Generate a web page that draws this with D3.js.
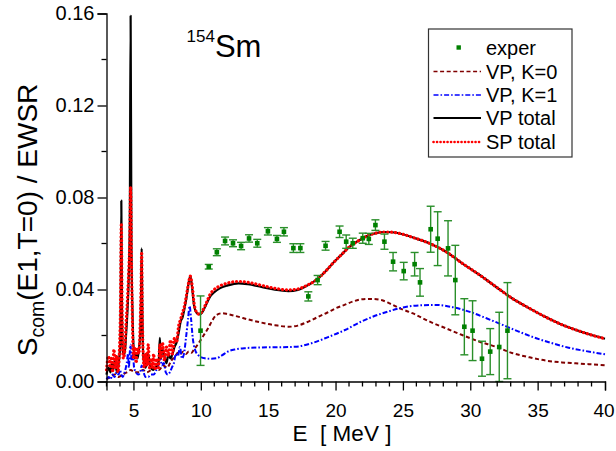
<!DOCTYPE html>
<html>
<head>
<meta charset="utf-8">
<script src="https://cdn.jsdelivr.net/npm/d3@7"></script>
<style>
  html, body { margin: 0; padding: 0; background: #fff; }
  svg text { font-family: "Liberation Sans", Arial, sans-serif; fill: #000; }
</style>
</head>
<body>
<svg id="chart" width="616" height="451"></svg>
<script>
// E1 strength of 154Sm: experimental points and model curves (E in MeV, S in EWSR units)

const expE = [9.98,10.59,11.19,11.80,12.39,12.99,13.58,14.19,14.98,15.65,16.17,16.87,17.39,17.98,18.67,19.26,20.30,20.79,21.28,22.02,22.47,22.96,23.63,24.27,25.06,25.87,26.27,27.06,27.58,28.35,28.89,29.56,30.17,30.87,31.48,32.15,32.76];
const expS = [0.0221,0.0499,0.0562,0.0611,0.0601,0.0589,0.0622,0.0601,0.0653,0.0620,0.0651,0.0580,0.0580,0.0370,0.0441,0.0590,0.0651,0.0608,0.0601,0.0623,0.0620,0.0680,0.0608,0.0521,0.0480,0.0510,0.0431,0.0662,0.0621,0.0579,0.0441,0.0238,0.0221,0.0099,0.0130,0.0150,0.0221];
const expErr = [0.0151,0.0010,0.0015,0.0017,0.0015,0.0016,0.0016,0.0017,0.0016,0.0015,0.0018,0.0019,0.0019,0.0020,0.0020,0.0019,0.0025,0.0029,0.0022,0.0022,0.0024,0.0023,0.0033,0.0040,0.0038,0.0051,0.0060,0.0100,0.0117,0.0120,0.0151,0.0122,0.0130,0.0076,0.0100,0.0151,0.0209];

// VP, K=0 component
const vpK0 = [[3.0,0.001],[3.3,0.002],[3.6,0.003],[3.9,0.002],[4.2,0.003],[4.5,0.004],[4.8,0.005],[5.1,0.004],[5.4,0.004],[5.7,0.005],[6.0,0.004],[6.3,0.005],[6.6,0.006],[6.9,0.005],[7.2,0.007],[7.5,0.006],[7.8,0.009],[8.1,0.011],[8.3,0.0125],[8.5,0.012],[8.7,0.013],[8.9,0.012],[9.1,0.013],[9.3,0.0125],[9.5,0.014],[9.7,0.0155],[9.93,0.0175],[10.2,0.020],[10.54,0.0231],[10.8,0.026],[11.16,0.0289],[11.6,0.0297],[12.0,0.0293],[12.76,0.0282],[13.5,0.0270],[14.5,0.0256],[15.5,0.0245],[16.5,0.0238],[17.2,0.0243],[17.8,0.0256],[18.6,0.0278],[19.4,0.0300],[20.0,0.0318],[20.7,0.0334],[21.3,0.0348],[21.9,0.0357],[22.6,0.0359],[23.4,0.0354],[24.0,0.0340],[24.7,0.0320],[25.7,0.0297],[27.0,0.0260],[28.2,0.0231],[29.4,0.0202],[30.7,0.0173],[31.9,0.0151],[33.1,0.0124],[34.4,0.0105],[35.6,0.0091],[36.8,0.0083],[37.8,0.0079],[40.0,0.0071]];

// VP, K=1 component
const vpK1 = [[3.0,0.001],[3.15,0.002],[3.3,0.001],[3.45,0.003],[3.6,0.002],[3.75,0.004],[3.9,0.003],[4.0,0.005],[4.1,0.003],[4.2,0.002],[4.35,0.004],[4.5,0.008],[4.6,0.012],[4.66,0.006],[4.72,0.012],[4.79,0.016],[4.86,0.009],[4.95,0.012],[5.05,0.006],[5.2,0.004],[5.35,0.003],[5.5,0.004],[5.61,0.007],[5.75,0.004],[5.9,0.002],[6.1,0.002],[6.3,0.003],[6.5,0.003],[6.7,0.005],[6.85,0.007],[7.0,0.011],[7.1,0.007],[7.25,0.008],[7.4,0.004],[7.55,0.003],[7.7,0.004],[7.85,0.006],[8.0,0.008],[8.15,0.012],[8.3,0.011],[8.45,0.015],[8.6,0.010],[8.75,0.012],[8.9,0.019],[9.05,0.027],[9.17,0.0328],[9.28,0.027],[9.4,0.019],[9.56,0.014],[9.8,0.0115],[10.3,0.0101],[10.7,0.0099],[11.16,0.0101],[11.6,0.0115],[12.0,0.0130],[12.6,0.0140],[13.3,0.0145],[14.5,0.0148],[15.7,0.0149],[17.0,0.0151],[18.2,0.0166],[19.4,0.0192],[20.7,0.0224],[21.9,0.0260],[23.1,0.0289],[24.0,0.0306],[24.7,0.0318],[26.2,0.0331],[27.5,0.0333],[28.7,0.0323],[29.9,0.0304],[31.2,0.0275],[32.4,0.0246],[33.6,0.0217],[34.9,0.0188],[36.1,0.0166],[37.3,0.0147],[38.6,0.0132],[40.0,0.0118]];

// VP total
const vpTotal = [[3.0,0.003],[3.15,0.006],[3.3,0.004],[3.4,0.008],[3.5,0.005],[3.6,0.009],[3.7,0.006],[3.8,0.004],[3.9,0.008],[4.0,0.014],[4.05,0.03],[4.10,0.0786],[4.15,0.03],[4.22,0.012],[4.35,0.012],[4.45,0.02],[4.55,0.03],[4.65,0.045],[4.73,0.07],[4.79,0.159],[4.85,0.06],[4.93,0.03],[5.0,0.016],[5.1,0.01],[5.2,0.012],[5.3,0.01],[5.4,0.014],[5.5,0.02],[5.56,0.035],[5.61,0.0579],[5.66,0.03],[5.72,0.012],[5.8,0.008],[5.9,0.006],[6.0,0.009],[6.1,0.012],[6.2,0.008],[6.3,0.006],[6.45,0.005],[6.6,0.006],[6.75,0.007],[6.88,0.009],[6.96,0.019],[7.03,0.01],[7.15,0.014],[7.3,0.011],[7.45,0.008],[7.6,0.012],[7.75,0.01],[7.9,0.012],[8.05,0.015],[8.2,0.017],[8.35,0.021],[8.5,0.026],[8.65,0.028],[8.8,0.032],[8.95,0.037],[9.1,0.043],[9.22,0.0458],[9.35,0.041],[9.5,0.033],[9.7,0.0298],[9.9,0.0292],[10.1,0.030],[10.4,0.0335],[10.7,0.037],[11.0,0.0388],[11.4,0.0405],[12.0,0.0418],[12.8,0.0427],[13.5,0.0423],[14.5,0.0411],[15.5,0.0399],[16.5,0.0393],[17.2,0.0398],[17.8,0.0414],[18.6,0.0443],[19.3,0.0482],[19.8,0.0514],[20.5,0.0555],[21.0,0.0584],[21.7,0.0612],[22.3,0.0632],[23.0,0.0645],[23.6,0.0650],[24.2,0.0649],[25.0,0.0640],[25.7,0.0627],[27.0,0.0600],[28.2,0.0564],[29.4,0.0514],[30.7,0.0463],[31.9,0.0412],[33.1,0.0362],[34.4,0.0318],[35.6,0.0280],[36.8,0.0247],[38.1,0.0219],[39.0,0.0202],[40.0,0.0186]];

// SP total
const spTotal = [[3.0,0.005],[3.15,0.011],[3.3,0.006],[3.35,0.010],[3.45,0.004],[3.55,0.014],[3.65,0.006],[3.75,0.011],[3.85,0.004],[3.95,0.012],[4.03,0.03],[4.10,0.0688],[4.17,0.025],[4.25,0.01],[4.35,0.013],[4.45,0.025],[4.55,0.035],[4.65,0.048],[4.72,0.06],[4.79,0.0847],[4.86,0.05],[4.93,0.025],[5.0,0.01],[5.1,0.015],[5.2,0.008],[5.3,0.014],[5.4,0.012],[5.5,0.025],[5.56,0.04],[5.61,0.0564],[5.66,0.03],[5.72,0.012],[5.8,0.006],[5.9,0.012],[6.0,0.007],[6.1,0.016],[6.2,0.006],[6.3,0.010],[6.4,0.006],[6.5,0.012],[6.6,0.005],[6.75,0.010],[6.85,0.006],[6.96,0.016],[7.05,0.010],[7.15,0.017],[7.3,0.009],[7.45,0.015],[7.6,0.011],[7.75,0.018],[7.9,0.012],[8.05,0.019],[8.2,0.017],[8.35,0.024],[8.5,0.027],[8.65,0.030],[8.8,0.033],[8.95,0.038],[9.1,0.043],[9.22,0.0458],[9.35,0.042],[9.5,0.034],[9.7,0.0300],[9.9,0.0292],[10.1,0.0305],[10.4,0.034],[10.7,0.038],[11.0,0.0400],[11.4,0.0415],[12.0,0.0428],[12.8,0.0435],[13.5,0.0431],[14.5,0.0418],[15.5,0.0405],[16.5,0.0398],[17.2,0.0402],[17.8,0.0416],[18.6,0.0443],[19.3,0.0482],[19.8,0.0514],[20.5,0.0555],[21.0,0.0584],[21.7,0.0612],[22.3,0.0632],[23.0,0.0645],[23.6,0.0650],[24.2,0.0649],[25.0,0.0640],[25.7,0.0627],[27.0,0.0600],[28.2,0.0564],[29.4,0.0514],[30.7,0.0463],[31.9,0.0412],[33.1,0.0362],[34.4,0.0318],[35.6,0.0280],[36.8,0.0247],[38.1,0.0219],[39.0,0.0202],[40.0,0.0186]];

const xTicks = [5, 10, 15, 20, 25, 30, 35, 40];
const yTicks = [0, 0.04, 0.08, 0.12, 0.16];
const legendLabels = ["exper", "VP, K=0", "VP, K=1", "VP total", "SP total"];

const svg = d3.select("#chart");
const x = d3.scaleLinear().domain([3, 40]).range([106.5, 605]);
const y = d3.scaleLinear().domain([0, 0.16]).range([381.5, 13.5]);

// curve styles
const styles = {
  k0: { stroke: "#800000", width: 2,   dash: "4 2.6",     cap: "butt" },
  k1: { stroke: "#0000ff", width: 2,   dash: "5 2 1.6 2", cap: "butt" },
  vp: { stroke: "#000000", width: 2.2, dash: null,        cap: "butt" },
  sp: { stroke: "#ff0000", width: 3.2, dash: "0.1 3.8",   cap: "round" }
};

const line = d3.line().x(d => x(d[0])).y(d => y(d[1])).curve(d3.curveMonotoneX);

function drawCurve(data, st) {
  const p = svg.append("path")
    .attr("d", line(data))
    .attr("fill", "none")
    .attr("stroke", st.stroke)
    .attr("stroke-width", st.width)
    .attr("stroke-linecap", st.cap)
    .attr("stroke-linejoin", "round");
  if (st.dash) p.attr("stroke-dasharray", st.dash);
}

drawCurve(vpK0, styles.k0);
drawCurve(vpK1, styles.k1);
drawCurve(vpTotal, styles.vp);
drawCurve(spTotal, styles.sp);

// experimental points with error bars
const expGreen = "#008000";
const exp = expE.map((e, i) => ({ e, s: expS[i], err: expErr[i] }));
const eg = svg.append("g");
exp.forEach(d => {
  const cx = x(d.e);
  const lo = y(Math.max(0, d.s - d.err));
  const hi = y(d.s + d.err);
  eg.append("line").attr("x1", cx).attr("x2", cx).attr("y1", lo).attr("y2", hi)
    .attr("stroke", "#2a8f2a").attr("stroke-width", 1.4);
  [lo, hi].forEach(yy => {
    eg.append("line").attr("x1", cx - 4).attr("x2", cx + 4).attr("y1", yy).attr("y2", yy)
      .attr("stroke", "#2a8f2a").attr("stroke-width", 1.4);
  });
  eg.append("rect").attr("x", cx - 2.3).attr("y", y(d.s) - 2.3)
    .attr("width", 4.6).attr("height", 4.6).attr("fill", expGreen);
});

// axes
const xAxis = d3.axisBottom(x).tickValues(xTicks).tickSize(9).tickPadding(13).tickFormat(d3.format("d"));
const gx = svg.append("g").attr("transform", `translate(0,${y(0)})`).call(xAxis);
gx.attr("font-family", null);
gx.select(".domain").attr("stroke-width", 1.3);
gx.selectAll(".tick line").attr("stroke-width", 1.3);
gx.selectAll(".tick text").style("font-size", "19px")
  .attr("dx", d => d === 40 ? -1.5 : 0);
gx.selectAll("line.minor").data(d3.range(3, 41).filter(v => v % 5 !== 0)).enter()
  .append("line").attr("class", "minor")
  .attr("x1", d => x(d)).attr("x2", d => x(d)).attr("y1", 0).attr("y2", 5)
  .attr("stroke", "#000").attr("stroke-width", 1.3);

const yAxis = d3.axisLeft(y).tickValues(yTicks).tickSize(9).tickPadding(3).tickFormat(d3.format(".2f"));
const gy = svg.append("g").attr("transform", `translate(${x(3)},0)`).call(yAxis);
gy.attr("font-family", null);
gy.select(".domain").attr("stroke-width", 1.3);
gy.selectAll(".tick line").attr("stroke-width", 1.3);
gy.selectAll(".tick text").style("font-size", "20px");
gy.selectAll("line.minor").data([0.02, 0.06, 0.10, 0.14]).enter()
  .append("line").attr("class", "minor")
  .attr("y1", d => y(d)).attr("y2", d => y(d)).attr("x1", 0).attr("x2", -5)
  .attr("stroke", "#000").attr("stroke-width", 1.3);

// axis titles
svg.append("text").attr("x", 342).attr("y", 441).attr("text-anchor", "middle")
  .style("font-size", "22.5px").style("white-space", "pre").text("E  [ MeV ]");

const yt = svg.append("text").attr("transform", "translate(37,220) rotate(-90)")
  .attr("text-anchor", "middle").style("font-size", "28px");
yt.append("tspan").text("S");
yt.append("tspan").attr("dy", 7).style("font-size", "19.5px").text("com");
yt.append("tspan").attr("dy", -7).text("(E1,T=0) / EWSR");

// nucleus label
const nl = svg.append("text").attr("x", 186.5).attr("y", 57);
nl.append("tspan").attr("dy", -15).style("font-size", "17px").text("154");
nl.append("tspan").attr("dy", 15).style("font-size", "31px").text("Sm");

// legend
const lg = svg.append("g");
lg.append("rect").attr("x", 428.5).attr("y", 29).attr("width", 143.5).attr("height", 128)
  .attr("fill", "#fff").attr("stroke", "#333").attr("stroke-width", 1.2);
const rowY = [47.5, 71.5, 95, 118, 142];
const keys = [null, "k0", "k1", "vp", "sp"];
legendLabels.forEach((lab, i) => {
  const yy = rowY[i];
  if (i === 0) {
    lg.append("rect").attr("x", 456.5).attr("y", yy - 2.2).attr("width", 4.4).attr("height", 4.4).attr("fill", expGreen);
  } else {
    const st = styles[keys[i]];
    const l = lg.append("line").attr("x1", 433.5).attr("x2", 481).attr("y1", yy).attr("y2", yy)
      .attr("stroke", st.stroke).attr("stroke-width", i === 4 ? 2.6 : (i === 3 ? 2.2 : 1.5))
      .attr("stroke-linecap", st.cap);
    if (st.dash) l.attr("stroke-dasharray", i === 4 ? "0.1 3.4" : st.dash);
  }
  lg.append("text").attr("x", 486).attr("y", yy).attr("dy", "0.36em")
    .style("font-size", "20px").text(lab);
});
</script>
</body>
</html>
